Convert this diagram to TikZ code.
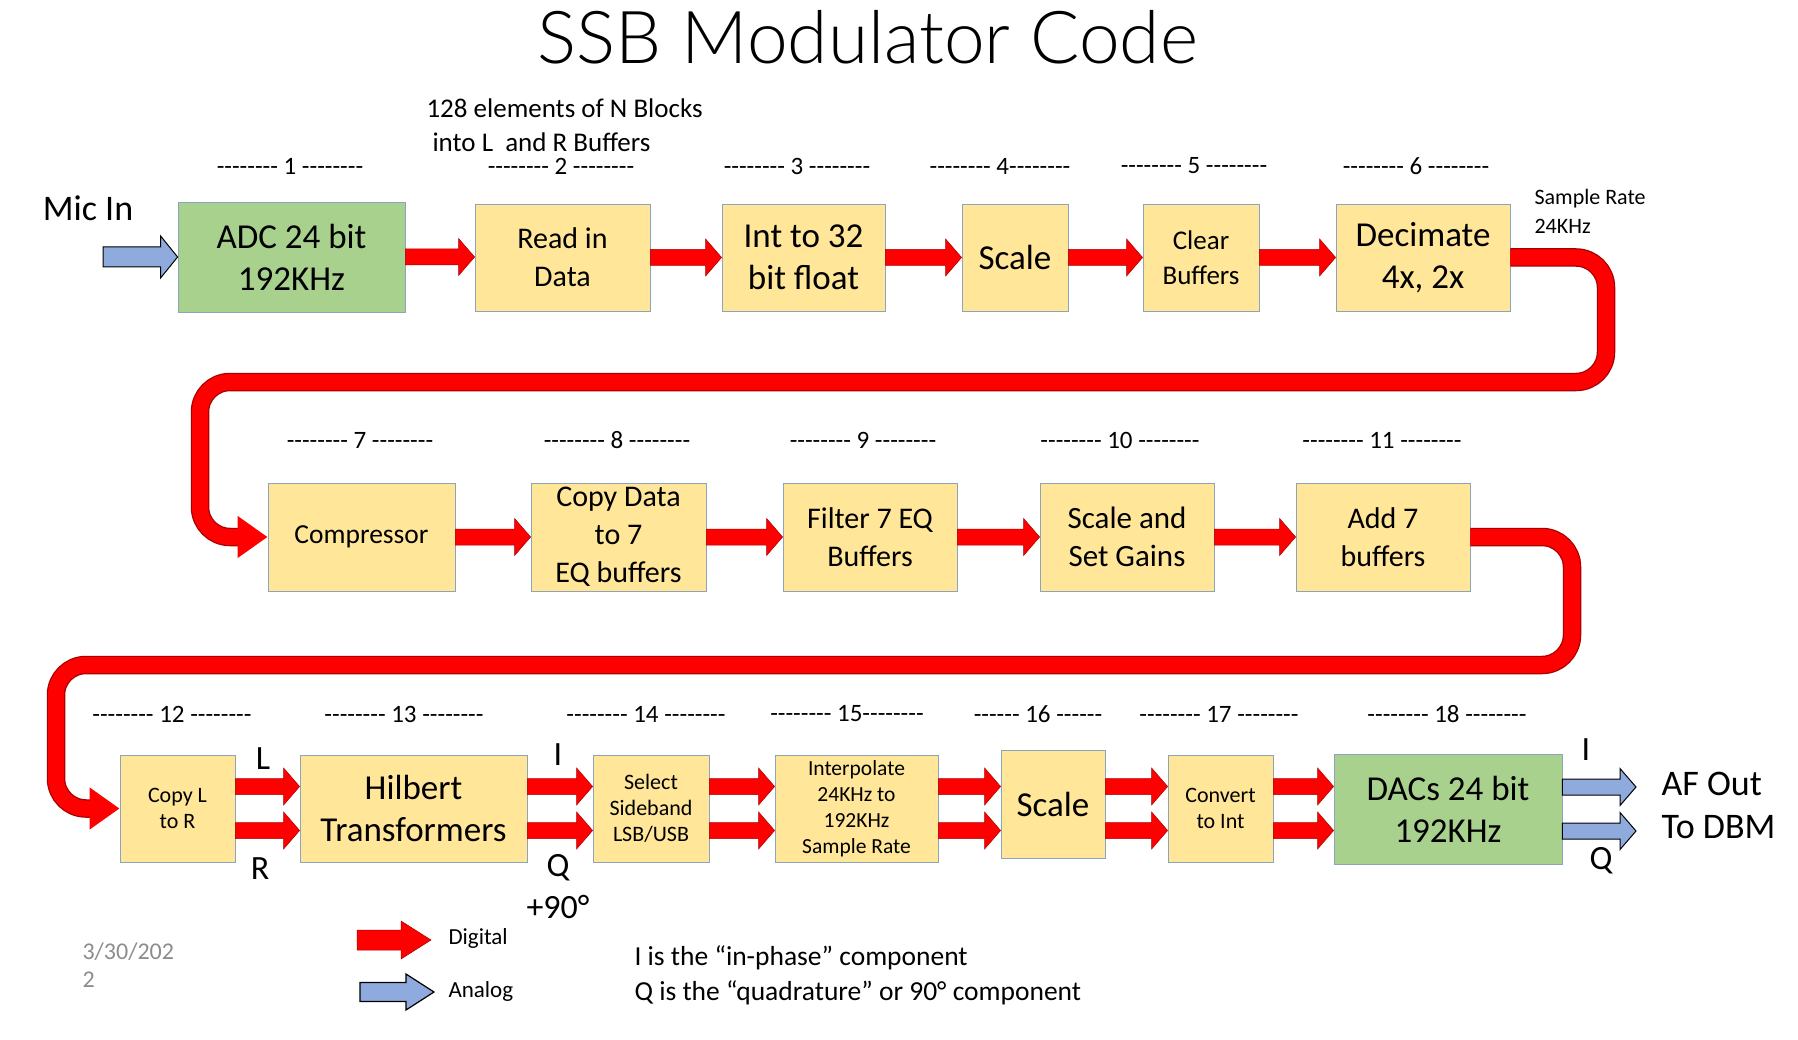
\documentclass[tikz,border=0pt]{standalone}
\usepackage{fontspec}
\setmainfont{Carlito}
\newfontfamily\stepfont{Carlito}
\newfontfamily\titlefont{Lato Light}
\usetikzlibrary{calc,arrows.meta}

\definecolor{boxfill}{HTML}{FFE699}
\definecolor{boxgreen}{HTML}{A9D18E}
\definecolor{boxedge}{HTML}{8EA3BC}
\definecolor{analogblue}{HTML}{8FAADC}
\definecolor{datecol}{HTML}{8C8C8C}

\tikzset{
  blockarrow/.style n args={3}{to path={let \p1=(\tikztostart), \p2=(\tikztotarget) in
    (\x1,\y1+#1) -- (\x2-#3,\y1+#1) -- (\x2-#3,\y1+#2) -- (\x2,\y1) -- (\x2-#3,\y1-#2) -- (\x2-#3,\y1-#1) -- (\x1,\y1-#1) -- cycle}},
  digital/.style={blockarrow={8pt}{18.5pt}{16pt}, fill=red, draw=red!65!black, line width=0.5pt},
  analog/.style={blockarrow={8pt}{18.5pt}{16pt}, fill=analogblue, draw=black, line width=1pt},
  bandedge/.style={draw=red!65!black, line width=18.5pt, rounded corners=30pt, shorten >=29pt},
  bandfill/.style={draw=red, line width=16pt, rounded corners=30pt, -{Triangle[length=30pt,width=40pt]}},
}

\begin{document}
\begin{tikzpicture}[x=1pt,y=-1pt,
  box/.style={draw=boxedge, fill=boxfill, line width=0.8pt, align=center, inner sep=0pt},
  greenbox/.style={box, fill=boxgreen},
  big/.style={font=\fontsize{35}{42}\selectfont},
  mid/.style={font=\fontsize{30}{38}\selectfont},
  small/.style={font=\fontsize{22}{26}\selectfont},
  steplbl/.style={font=\stepfont\fontsize{25}{28}\selectfont},
  iqlbl/.style={font=\fontsize{34}{40}\selectfont},
  note/.style={font=\fontsize{27.5}{35}\selectfont, align=left}]
\useasboundingbox (0,0) rectangle (1798,1040);

\node[font=\titlefont\fontsize{73}{84}\selectfont, anchor=base] (title) at (868,64) {SSB Modulator Code};

% row 1
\node[greenbox,big,minimum width=227pt,minimum height=110pt] (adc) at (291.5,257) {ADC 24 bit\\192KHz};
\node[box,mid,minimum width=175pt,minimum height=107pt] (read) at (562.5,257.5) {Read in\\Data};
\node[box,big,minimum width=163pt,minimum height=107pt] (int) at (803.5,257.5) {Int to 32\\bit float};
\node[box,big,minimum width=106pt,minimum height=107pt] (scaleA) at (1015,257.5) {Scale};
\node[box,font=\fontsize{27}{35}\selectfont,minimum width=116pt,minimum height=107pt] (clear) at (1201,257.5) {Clear\\Buffers};
\node[box,big,minimum width=174pt,minimum height=107pt] (decim) at (1423,257.5) {Decimate\\4x, 2x};

% row 2
\node[box,font=\fontsize{27.5}{34}\selectfont,minimum width=187pt,minimum height=108pt] (comp) at (361.5,537) {Compressor};
\node[box,mid,minimum width=175pt,minimum height=108pt] (copydata) at (618.5,537) {Copy Data\\to 7\\EQ buffers};
\node[box,mid,minimum width=174pt,minimum height=108pt] (filter) at (870,537) {Filter 7 EQ\\Buffers};
\node[box,font=\fontsize{31}{38}\selectfont,minimum width=174pt,minimum height=108pt] (gains) at (1127,537) {Scale and\\Set Gains};
\node[box,mid,minimum width=174pt,minimum height=108pt] (add) at (1383,537) {Add 7\\buffers};

% row 3
\node[box,small,minimum width=115pt,minimum height=107pt] (copylr) at (177.5,808.5) {Copy L\\to R};
\node[box,big,minimum width=227pt,minimum height=107pt] (hilbert) at (413.5,808.5) {Hilbert\\Transformers};
\node[box,small,minimum width=116pt,minimum height=107pt] (select) at (651,808.5) {Select\\Sideband\\LSB/USB};
\node[box,font=\fontsize{21.5}{26}\selectfont,minimum width=163pt,minimum height=107pt] (interp) at (856.5,808.5) {Interpolate\\24KHz to\\192KHz\\Sample Rate};
\node[box,big,minimum width=104pt,minimum height=108pt] (scaleB) at (1053,804) {Scale};
\node[box,small,minimum width=105pt,minimum height=107pt] (convert) at (1220.5,808.5) {Convert\\to Int};
\node[greenbox,big,minimum width=228pt,minimum height=110pt] (dac) at (1448,809) {DACs 24 bit\\192KHz};

% step numbers
\foreach \x/\y/\t [count=\i] in {290/166/-------- 1 --------, 561/166/-------- 2 --------, 797/166/-------- 3 --------,
    1000/166/-------- 4--------, 1194/166/-------- 5 --------, 1416/166/-------- 6 --------,
    360/440/-------- 7 --------, 617/440/-------- 8 --------, 863/440/-------- 9 --------,
    1120/440/-------- 10 --------, 1382/440/-------- 11 --------,
    172/714/-------- 12 --------, 404/714/-------- 13 --------, 646/714/-------- 14 --------,
    847/714/-------- 15--------, 1038/714/------ 16 ------, 1219/714/-------- 17 --------, 1447/714/-------- 18 --------}
  \node[steplbl] (n\i) at (\x,\y) {\t};

% texts
\node[font=\fontsize{36}{42}\selectfont] (mic) at (88,208) {Mic In};
\node[font=\fontsize{27}{32}\selectfont, anchor=west] (blocksA) at (423,108) {128 elements of N Blocks};
\node[font=\fontsize{27}{32}\selectfont, anchor=west] (blocksB) at (429,142) {into L~ and R Buffers};
\node[font=\fontsize{22}{29}\selectfont, anchor=west, align=left] (rate) at (1531,211) {Sample Rate\\24KHz};
\node[iqlbl] (lblL) at (263,759) {L};
\node[iqlbl] (lblR) at (260,869) {R};
\node[iqlbl] (lblI) at (558,755) {I};
\node[iqlbl] (lblQ) at (558,868) {Q};
\node[iqlbl] (lblP) at (558,907) {+90°};
\node[iqlbl] (outI) at (1586,750) {I};
\node[iqlbl] (outQ) at (1601,861) {Q};
\node[font=\fontsize{36}{42}\selectfont, anchor=west] (afout) at (1658,784) {AF Out};
\node[font=\fontsize{36}{42}\selectfont, anchor=west] (todbm) at (1658,827) {To DBM};
\node[font=\fontsize{23}{28}\selectfont, anchor=west] (legd) at (445,938) {Digital};
\node[font=\fontsize{23}{28}\selectfont, anchor=west] (lega) at (445,991) {Analog};
\node[font=\fontsize{24}{28}\selectfont, anchor=west, align=left, text=datecol] (date) at (79,965) {3/30/202\\2};
\node[note, anchor=west] (iqnote) at (631,975) {I is the “in-phase” component\\Q is the “quadrature” or 90° component};

% arrows
\coordinate (micsrc) at (103,257);
\draw[blockarrow={10pt}{21pt}{17pt}, fill=analogblue, draw=black, line width=1pt] (micsrc) to (adc.west);
\draw[digital] (adc.east) to (read.west);
\draw[digital] (read.east) to (int.west);
\draw[digital] (int.east) to (scaleA.west);
\draw[digital] (scaleA.east) to (clear.west);
\draw[digital] (clear.east) to (decim.west);

\draw[digital] (comp.east) to (copydata.west);
\draw[digital] (copydata.east) to (filter.west);
\draw[digital] (filter.east) to (gains.west);
\draw[digital] (gains.east) to (add.west);

\foreach \a/\b in {copylr/hilbert, hilbert/select, select/interp, interp/scaleB, scaleB/convert, convert/dac} {
  \draw[digital] ([yshift=22pt]\a.east |- copylr.east) to ([yshift=22pt]\b.west |- copylr.west);
  \draw[digital] ([yshift=-22pt]\a.east |- copylr.east) to ([yshift=-22pt]\b.west |- copylr.west);
}

\coordinate (outA) at (1636,786);
\coordinate (outB) at (1636,830);
\draw[analog] ([yshift=22pt]dac.east) to (outA);
\draw[analog] ([yshift=-22pt]dac.east) to (outB);

% loops
\coordinate (bendA) at (1606,382);
\coordinate (bendB) at (200,382);
\draw[bandedge] (decim.east) -| (bendA) -| (comp.west -| bendB) -- (comp.west);
\draw[bandfill] (decim.east) -| (bendA) -| (comp.west -| bendB) -- (comp.west);
\coordinate (bendC) at (1572,665);
\coordinate (bendD) at (56,665);
\draw[bandedge] (add.east) -| (bendC) -| (copylr.west -| bendD) -- (copylr.west);
\draw[bandfill] (add.east) -| (bendC) -| (copylr.west -| bendD) -- (copylr.west);

% legend
\coordinate (legDa) at (357,940); \coordinate (legDb) at (431,940);
\coordinate (legAa) at (360,992); \coordinate (legAb) at (434,992);
\draw[blockarrow={10pt}{19pt}{30pt}, fill=red, draw=red!65!black, line width=0.5pt] (legDa) to (legDb);
\draw[blockarrow={9.5pt}{18pt}{28pt}, fill=analogblue, draw=black, line width=1.2pt] (legAa) to (legAb);
\end{tikzpicture}
\end{document}
